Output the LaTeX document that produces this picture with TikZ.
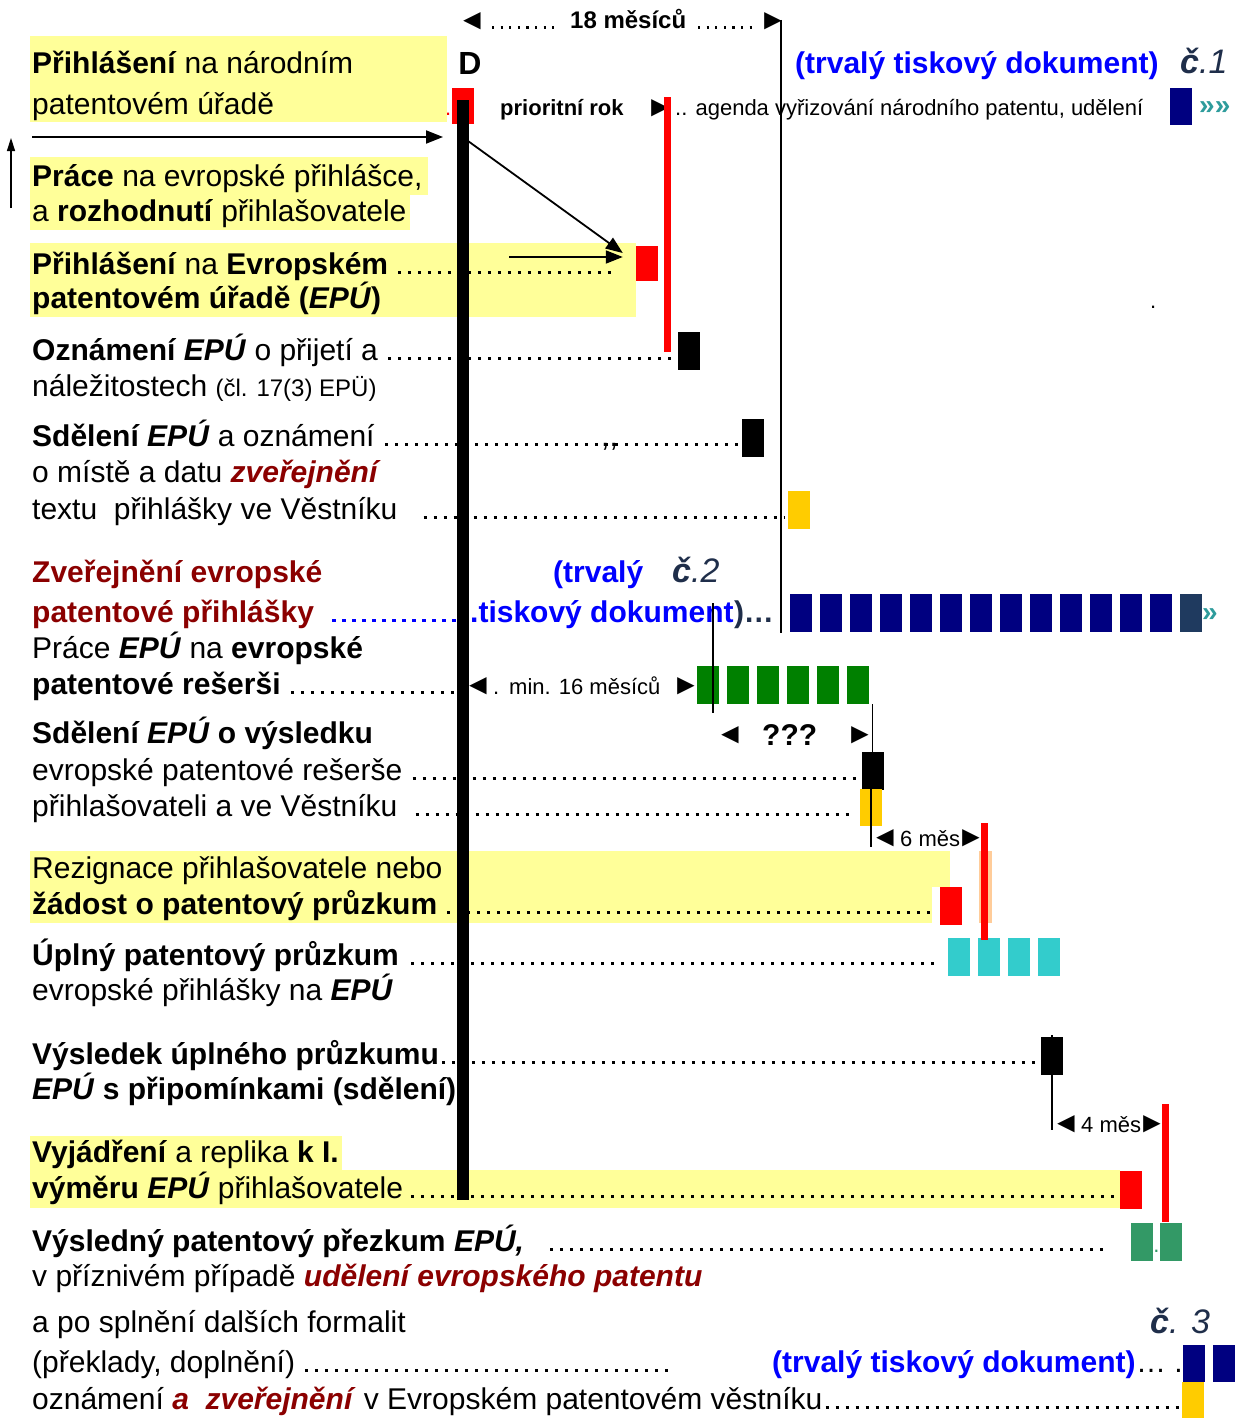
\documentclass[tikz,border=0pt]{standalone}
\usepackage{fontspec}
\setmainfont{Liberation Sans}
\usetikzlibrary{arrows.meta,calc}
\definecolor{hl}{HTML}{FFFF99}
\definecolor{navyb}{HTML}{000080}
\definecolor{slateb}{HTML}{1F3A5F}
\definecolor{greenb}{HTML}{008000}
\definecolor{cyanb}{HTML}{33CCCC}
\definecolor{seab}{HTML}{339966}
\definecolor{goldb}{HTML}{FFCC00}
\definecolor{redb}{HTML}{FF0000}
\definecolor{dred}{HTML}{8B0000}
\definecolor{blueT}{HTML}{0000FF}
\definecolor{tealT}{HTML}{2E9C9C}
\definecolor{cnumc}{HTML}{1F2E4A}
\definecolor{lorange}{HTML}{FFCC99}
\newcommand\myfbig{\fontsize{30}{36}\selectfont}
\newcommand\myfsmall{\fontsize{22}{26}\selectfont}
\newcommand\myfmid{\fontsize{24}{28}\selectfont}
\newcommand\myfnum{\fontsize{34}{40}\selectfont}
\newcommand\myftri{\fontsize{29}{34}\selectfont}
\newcommand\mycnum[1]{{\color{cnumc}\bfseries\itshape č}{\color{cnumc}\itshape #1}}
\newcommand\myleader[4]{\draw[leader,#1] let \p1=(#2.base east) in (\x1+#3pt,\y1+1.4pt) -- (#4pt,\y1+1.4pt);}
\tikzset{
  txt/.style={inner sep=0pt, anchor=base west, font=\myfbig},
  stxt/.style={inner sep=0pt, anchor=base west, font=\myfsmall},
  tri/.style={inner sep=0pt, anchor=center, font=\myftri},
  mk/.style={rectangle, inner sep=0pt, minimum width=22pt, minimum height=38pt, fill=#1},
  leader/.style={line width=3pt, dash pattern=on 3pt off 7pt},
  sleader/.style={line width=2.2pt, dash pattern=on 2.2pt off 6.4pt},
  tline/.style={line width=1.6pt},
  arr/.style={line width=1.8pt, -{Triangle[length=17pt,width=13pt]}},
}
\begin{document}
\begin{tikzpicture}[x=1pt,y=-1pt]
\fill[white] (0,0) rectangle (1244,1418);
\useasboundingbox (0,0) rectangle (1244,1418);

% highlights
\fill[hl] (30,36) rectangle (447,122);
\fill[hl] (30,157) rectangle (428,195);
\fill[hl] (30,195) rectangle (410,230);
\fill[hl] (30,243) rectangle (636,317);
\fill[hl] (30,851) rectangle (950,887);
\fill[hl] (30,887) rectangle (932,923);
\fill[lorange] (979,851) rectangle (992,923);
\fill[hl] (30,1136) rectangle (342,1170);
\fill[hl] (30,1170) rectangle (1120,1208);

% left texts
\node[txt] (t1) at (32,74) {\textbf{Přihlášení} na národním};
\node[txt] (t2) at (32,114) {patentovém úřadě};
\node[txt] (t3) at (32,186) {\textbf{Práce} na evropské přihlášce,};
\node[txt] (t4) at (32,221) {a \textbf{rozhodnutí} přihlašovatele};
\node[txt] (t5) at (32,274) {\textbf{Přihlášení} na \textbf{Evropském}};
\node[txt] (t6) at (32,308) {\textbf{patentovém úřadě (\textit{EPÚ})}};
\node[txt] (t7) at (32,360) {\textbf{Oznámení \textit{EPÚ}} o přijetí a};
\node[txt] (t8) at (32,396) {náležitostech {\myfmid (čl. 17(3) EPÜ)}};
\node[txt] (t9) at (32,446) {\textbf{Sdělení \textit{EPÚ}} a oznámení};
\node[txt] (t10) at (32,482) {o místě a datu \textcolor{dred}{\textbf{\textit{zveřejnění}}}};
\node[txt] (t11) at (32,519) {textu\ \ přihlášky ve Věstníku};
\node[txt, font=\myfbig\bfseries, text=dred] (t12) at (32,582) {Zveřejnění evropské};
\node[txt, font=\myfbig\bfseries, text=dred] (t13) at (32,622) {patentové přihlášky};
\node[txt] (t14) at (32,658) {Práce \textbf{\textit{EPÚ}} na \textbf{evropské}};
\node[txt] (t15) at (32,694) {\textbf{patentové rešerši}};
\node[txt] (t16) at (32,743) {\textbf{Sdělení \textit{EPÚ} o výsledku}};
\node[txt] (t17) at (32,780) {evropské patentové rešerše};
\node[txt] (t18) at (32,816) {přihlašovateli a ve Věstníku};
\node[txt] (t19) at (32,878) {Rezignace přihlašovatele nebo};
\node[txt] (t20) at (32,914) {\textbf{žádost o patentový průzkum}};
\node[txt] (t21) at (32,965) {\textbf{Úplný patentový průzkum}};
\node[txt] (t22) at (32,1000) {evropské přihlášky na \textbf{\textit{EPÚ}}};
\node[txt] (t23) at (32,1064) {\textbf{Výsledek úplného průzkumu}};
\node[txt] (t24) at (32,1099) {\textbf{\textit{EPÚ} s připomínkami (sdělení)}};
\node[txt] (t25) at (32,1162) {\textbf{Vyjádření} a replika \textbf{k I.}};
\node[txt] (t26) at (32,1198) {\textbf{výměru \textit{EPÚ}} přihlašovatele};
\node[txt] (t27) at (32,1251) {\textbf{Výsledný patentový přezkum \textit{EPÚ,}}};
\node[txt] (t28) at (32,1286) {v příznivém případě \textcolor{dred}{\textbf{\textit{udělení evropského patentu}}}};
\node[txt] (t29) at (32,1332) {a po splnění dalších formalit};
\node[txt] (t30) at (32,1372) {(překlady, doplnění)};
\node[txt] (t31) at (32,1409) {oznámení \textcolor{dred}{\textbf{\textit{a\ \ zveřejnění}}} v Evropském patentovém věstníku};

% leaders
\myleader{}{t5}{10}{617}
\myleader{}{t7}{10}{675}
\myleader{}{t9}{10}{740}
\node[txt] (commas) at (601,446) {{,}{,}};
\myleader{}{t11}{26}{785}
\myleader{blueT,line width=3.4pt,dash pattern=on 3.4pt off 6.6pt}{t13}{18}{466}
\myleader{}{t15}{10}{460}
\myleader{}{t17}{10}{858}
\myleader{}{t18}{18}{850}
\myleader{}{t20}{10}{930}
\myleader{}{t21}{12}{940}
\myleader{}{t23}{3}{1040}
\myleader{}{t26}{8}{1118}
\myleader{}{t27}{26}{1103}
\myleader{}{t30}{10}{668}
\myleader{}{t31}{3}{1180}

% top dimension
\node[tri] (ld1) at (472,21) {◄};
\draw[sleader] (492,27.5) -- (556,27.5);
\node[stxt, font=\myfmid\bfseries] (m18) at (570,29) {18 měsíců};
\draw[sleader] (698,27.5) -- (753,27.5);
\node[tri] (rd1) at (773,21) {►};

\node[inner sep=0pt, font=\fontsize{32}{36}\selectfont\bfseries] (dlab) at (470,63) {D};
\node[stxt, font=\myfsmall\bfseries] (prio) at (500,116) {prioritní rok};
\node[tri] (prioarr) at (660,108) {►};
\node[stxt] (agenda) at (675,116) {.. agenda vyřizování národního patentu, udělení};
\node[stxt, font=\fontsize{28}{30}\selectfont\bfseries, text=tealT] (raq1) at (1199,115) {»»};
\node[txt, font=\myfbig\bfseries, text=blueT] (doc1) at (795,74) {(trvalý tiskový dokument)};
\node[txt, font=\myfnum] (c1) at (1180,74) {\mycnum{.1}};
\node[stxt, text=redb] (rdot) at (445,116) {.};
\node[stxt] (sdot) at (1150,308) {.};

% second document
\node[txt, font=\myfbig\bfseries, text=blueT] (tr2) at (553,582) {(trvalý};
\node[txt, font=\myfnum] (c2) at (672,582) {\mycnum{.2}};
\node[txt, font=\myfbig\bfseries, text=blueT] (doc2) at (470,622) {.tiskový dokument};
\node[txt, font=\myfbig\bfseries, text=cnumc] (doc2e) at (doc2.base east) {)…};
\node[stxt, text=tealT, font=\fontsize{28}{30}\selectfont\bfseries] (raq2) at (1202,621) {»};

% min 16 months
\node[tri] (ld2) at (478,686) {◄};
\node[stxt] (dot16) at (493,694) {.};
\node[stxt] (m16) at (509,694) {min. 16 měsíců};
\node[tri] (rd2) at (686,686) {►};

% ???
\node[tri] (ld3) at (730,735) {◄};
\node[txt, font=\myfbig\bfseries] (qqq) at (762,745) {???};
\node[tri] (rd3) at (860,735) {►};

% 6 months
\node[tri] (ld4) at (885,838) {◄};
\node[stxt] (m6) at (900,846) {6 měs};
\node[tri] (rd4) at (971,838) {►};

% 4 months
\node[tri] (ld5) at (1066,1124) {◄};
\node[stxt] (m4) at (1081,1132) {4 měs};
\node[tri] (rd5) at (1152,1124) {►};

% third document
\node[txt, font=\myfnum] (c3) at (1150,1333) {\mycnum{. 3}};
\node[txt, font=\myfbig\bfseries, text=blueT] (doc3) at (772,1372) {(trvalý tiskový dokument)};
\node[txt] (doc3e) at (doc3.base east) {…\ .};

% markers
\node[mk=redb, minimum height=36pt] (r0) at (463,106) {};
\node[mk=navyb, minimum height=37pt] (n0) at (1181,106.5) {};
\node[mk=redb, minimum height=35pt] (r2) at (647,263) {};
\node[mk=black] (k1) at (689,351) {};
\node[mk=black] (k2) at (753,438) {};
\node[mk=goldb] (y1) at (799,510) {};
\foreach \i in {0,...,12} \node[mk=navyb] (nv\i) at (801+30*\i,613) {};
\node[mk=slateb] (nv13) at (1191,613) {};
\foreach \i in {0,...,5} \node[mk=greenb] (g\i) at (708+30*\i,684.5) {};
\node[mk=black] (k3) at (872.5,771) {};
\node[mk=goldb, minimum height=37pt] (y2) at (871,807.5) {};
\node[mk=redb] (r3) at (951,906) {};
\foreach \i in {0,...,3} \node[mk=cyanb] (cy\i) at (959+30*\i,957) {};
\node[mk=black] (k4) at (1052,1056) {};
\node[mk=redb] (r4) at (1131,1190) {};
\node[mk=seab] (sg1) at (1142,1242) {};
\node[mk=seab] (sg2) at (1171,1242) {};
\node[inner sep=0pt, font=\myfsmall, text=seab, anchor=base] (sgdot) at (1156.5,1252) {.};
\node[mk=navyb, minimum height=37pt] (nb1) at (1194,1363.5) {};
\node[mk=navyb, minimum height=37pt] (nb2) at (1224,1363.5) {};
\node[mk=goldb, minimum height=36pt] (y3) at (1193,1400) {};

% red deadline bars
\fill[redb] (664,97) rectangle (671,352);
\fill[redb] (981,823) rectangle (988,940);
\fill[redb] (1162,1104) rectangle (1169,1222);

% main time axis
\fill[black] (457,100) rectangle (469,1200);

% thin lines
\coordinate (v1a) at (781,20);
\coordinate (v1b) at (781,633);
\draw[tline] (v1a) -- (v1b);
\coordinate (v2a) at (713,603);
\coordinate (v2b) at (713,713);
\draw[tline] (v2a) -- (v2b);
\draw[tline] (k3.north) -- ++(0,-48);
\draw[tline] (y2.north) -- ++(0,58);
\draw[tline] ([yshift=2pt]k4.north) -- ++(0,95);

% arrows
\coordinate (a1s) at (32,137);
\coordinate (a1e) at (443,137);
\draw[arr] (a1s) -- (a1e);
\coordinate (a2s) at (11,208);
\coordinate (a2e) at (11,138);
\draw[line width=1.5pt, -{Triangle[length=13pt,width=8pt]}] (a2s) -- (a2e);
\coordinate (a3s) at (468,141);
\draw[arr] (a3s) -- ([xshift=-13pt,yshift=10pt]r2.west);
\coordinate (a4s) at (509,257);
\draw[arr] (a4s) -- ([xshift=-13pt,yshift=6pt]r2.west);
\end{tikzpicture}
\end{document}
